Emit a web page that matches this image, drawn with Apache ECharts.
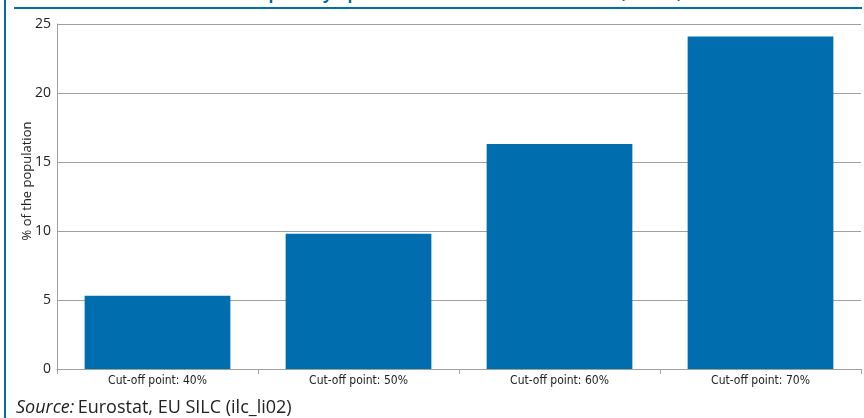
<!DOCTYPE html>
<html>
<head>
<meta charset="utf-8">
<script src="https://cdn.jsdelivr.net/npm/echarts@6/dist/echarts.min.js"></script>
<style>
  html, body { margin: 0; padding: 0; background: #fff; }
  #main { width: 864px; height: 418px; }
</style>
</head>
<body>
<div id="main"></div>
<script>
// data
var categories = ['Cut-off point: 40%', 'Cut-off point: 50%', 'Cut-off point: 60%', 'Cut-off point: 70%'];
var values = [5.3, 9.8, 16.3, 24.1];
var yTicks = [0, 5, 10, 15, 20, 25];

var blue = '#006eae';
var grey = '#a0a0a0';

var chart = echarts.init(document.getElementById('main'));

var option = {
  animation: false,
  grid: { left: 57, right: 3, top: 24, bottom: 49 },
  graphic: [
    // frame lines
    { type: 'rect', shape: { x: 4, y: 0, width: 2, height: 418 }, style: { fill: blue } },
    { type: 'rect', shape: { x: 14, y: 7, width: 848, height: 2 }, style: { fill: blue } },
    // title, mostly cut off at the top of the picture
    {
      type: 'text', left: 'center', top: -14,
      style: {
        text: '{g|Chart 1: }{b|Risk of poverty upon various threshold definitions, EU-27, 2006}',
        rich: {
          g: { fill: '#8c8c8c', font: 'bold 16.5px "Open Sans", sans-serif' },
          b: { fill: blue, font: 'bold 16.5px "Open Sans", sans-serif' }
        }
      }
    },
    // y axis title
    {
      type: 'text', x: 27, y: 181, rotation: Math.PI / 2,
      style: {
        text: '% of the population', fill: '#222',
        font: '13px "Open Sans", sans-serif',
        align: 'center', verticalAlign: 'middle'
      }
    },
    // source note
    {
      type: 'text', left: 16, top: 399,
      style: {
        text: '{i|Source:} {n|Eurostat, EU SILC (ilc_li02)}',
        rich: {
          i: { fill: '#222', font: 'italic 18px "Open Sans", sans-serif' },
          n: { fill: '#222', font: '18px "Open Sans", sans-serif' }
        }
      }
    }
  ],
  xAxis: {
    type: 'category',
    data: categories,
    axisLine: { lineStyle: { color: grey, width: 1 } },
    axisTick: { show: true, length: 5, lineStyle: { color: grey } },
    axisLabel: {
      color: '#222', fontSize: 12, margin: 6,
      fontFamily: '"Liberation Sans Narrow", "DejaVu Sans Condensed", sans-serif'
    }
  },
  yAxis: {
    type: 'value',
    min: yTicks[0],
    max: yTicks[yTicks.length - 1],
    interval: 5,
    axisLine: { show: true, lineStyle: { color: grey, width: 1 } },
    axisTick: { show: false },
    splitLine: { lineStyle: { color: grey, width: 1 } },
    axisLabel: { color: '#222', fontSize: 14, margin: 6, fontFamily: '"Open Sans", sans-serif' }
  },
  series: [{
    type: 'bar',
    data: values,
    barCategoryGap: '27.5%',
    itemStyle: { color: blue }
  }]
};

chart.setOption(option);
</script>
</body>
</html>
